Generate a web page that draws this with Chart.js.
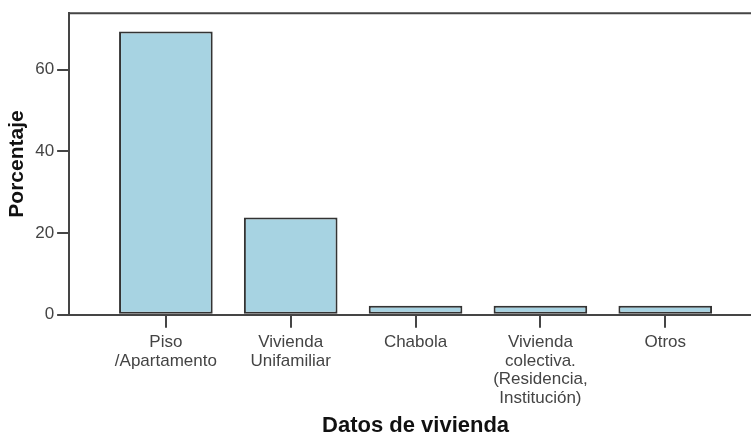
<!DOCTYPE html>
<html>
<head>
<meta charset="utf-8">
<script src="https://cdn.jsdelivr.net/npm/chart.js@4"></script>
<style>
  body { margin: 0; overflow: hidden; background: #fff; }
  #wrap { width: 751px; height: 438px; overflow: hidden; }
</style>
</head>
<body>
<div id="wrap"><canvas id="barChart" width="762" height="438"></canvas></div>
<script>
// data
const categories = ['Piso\n/Apartamento', 'Vivienda\nUnifamiliar', 'Chabola', 'Vivienda\ncolectiva.\n(Residencia,\nInstitución)', 'Otros']
const porcentaje = [69.3, 23.8, 2.2, 2.2, 2.2]
const yTicks = [0, 20, 40, 60]

const axisColor = '#454545'
const font = 'Liberation Sans, Arial, sans-serif'

// top frame line like the SPSS box
const frame = {
    id: 'frame',
    afterDraw(chart) {
        const a = chart.chartArea, c = chart.ctx
        c.save()
        c.strokeStyle = axisColor
        c.lineWidth = 2
        c.beginPath()
        c.moveTo(a.left, a.top)
        c.lineTo(a.right, a.top)
        c.lineTo(a.right, a.bottom)
        c.stroke()
        c.restore()
    }
}

const ctx = document.getElementById('barChart')

new Chart(ctx, {
    type: 'bar',
    data: {
        datasets: [{
            label: 'Porcentaje',
            data: porcentaje.map((v, i) => ({x: i, y: v})),
            backgroundColor: '#a7d3e2',
            borderColor: '#333',
            borderWidth: 2,
            borderSkipped: false,
            barPercentage: 0.75,
            categoryPercentage: 1
        }]
    },
    options: {
        responsive: false,
        animation: false,
        layout: {padding: {top: 9, right: 0, bottom: -1, left: 5}},
        plugins: {legend: {display: false}, tooltip: {enabled: false}},
        scales: {
            x: {
                type: 'linear',
                offset: false,
                min: -0.775,
                max: 4.775,
                afterBuildTicks: s => { s.ticks = categories.map((c, i) => ({value: i})) },
                ticks: {
                    callback: v => categories[v] ? categories[v].split('\n') : '',
                    color: '#444',
                    font: {family: font, size: 17, lineHeight: 1.1},
                    maxRotation: 0,
                    autoSkip: false,
                    padding: 5
                },
                grid: {offset: false, drawOnChartArea: false, tickLength: 13, color: axisColor, lineWidth: 2},
                border: {color: axisColor, width: 2},
                title: {
                    display: true,
                    text: 'Datos de vivienda',
                    color: '#111',
                    font: {family: font, size: 22, weight: 'bold'},
                    padding: {top: 0, bottom: 0}
                }
            },
            y: {
                min: 0,
                max: 73.8,
                afterBuildTicks: s => { s.ticks = yTicks.map(v => ({value: v})) },
                ticks: {
                    color: '#444',
                    font: {family: font, size: 17},
                    padding: 3
                },
                grid: {drawOnChartArea: false, tickLength: 12, color: axisColor, lineWidth: 2},
                border: {color: axisColor, width: 2},
                title: {
                    display: true,
                    text: 'Porcentaje',
                    color: '#111',
                    font: {family: font, size: 21, weight: 'bold'},
                    padding: {top: 0, bottom: 2}
                }
            }
        }
    },
    plugins: [frame]
})
</script>
</body>
</html>
